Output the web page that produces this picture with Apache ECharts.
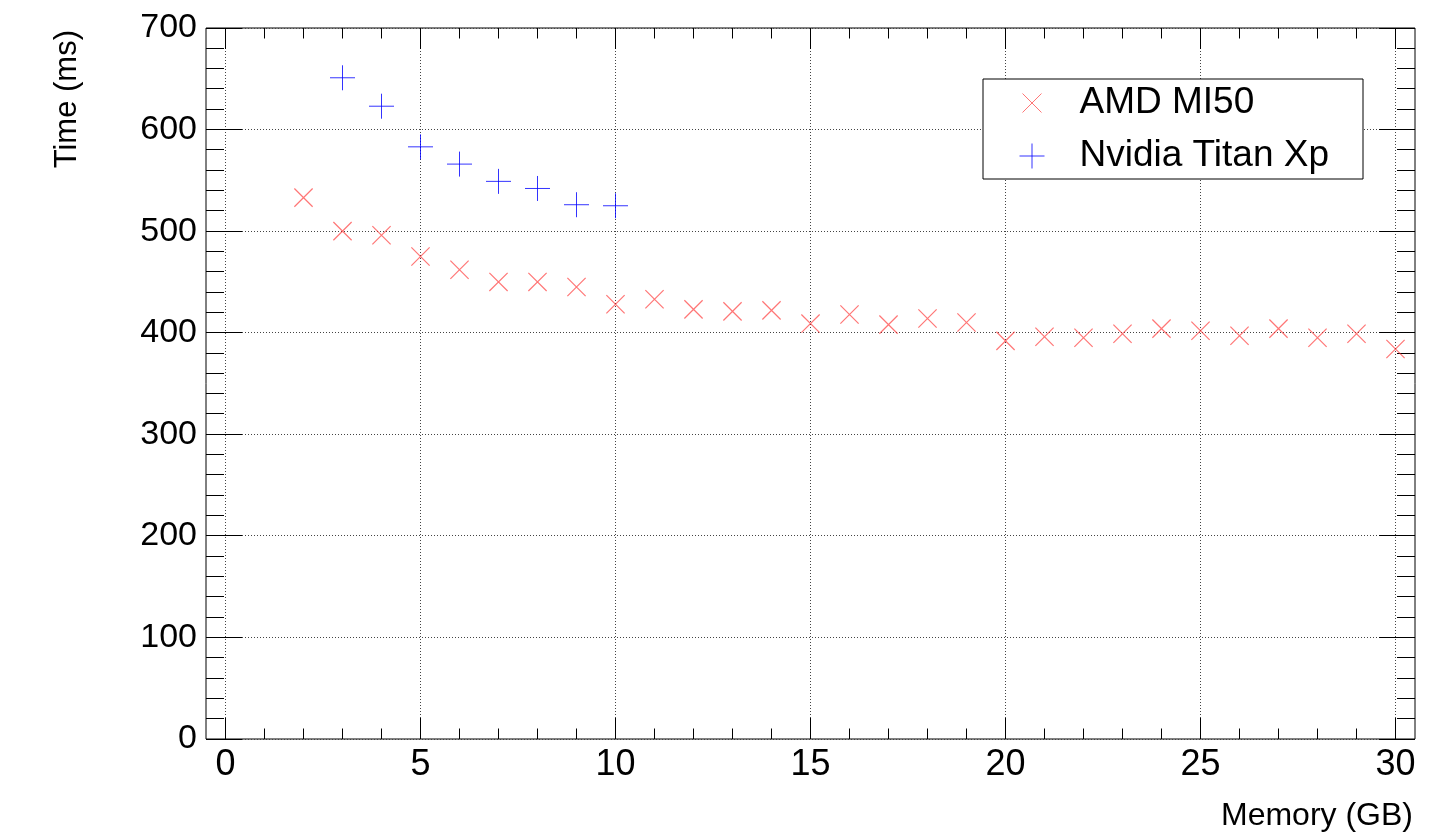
<!DOCTYPE html>
<html>
<head>
<meta charset="utf-8">
<script src="https://cdn.jsdelivr.net/npm/echarts@6/dist/echarts.min.js"></script>
<style>
html,body{margin:0;padding:0;background:#fff;}
#chart{width:1450px;height:836px;}
</style>
</head>
<body>
<div id="chart"></div>
<script>
// ---- data ----
const amdMemory = [2,3,4,5,6,7,8,9,10,11,12,13,14,15,16,17,18,19,20,21,22,23,24,25,26,27,28,29,30];
const amdTime   = [533,500,496,475,462,450,450,445,428,433,423,421,422,409,418,408,414,410,392,396,395,399,404,402,397,404,395,399,384];
const nvMemory  = [3,4,5,6,7,8,9,10];
const nvTime    = [651,623,583,566,549,542,526,525];
const seriesNames = ['AMD MI50', 'Nvidia Titan Xp'];

// ---- axes / ticks ----
const xRange = [-0.5, 30.5];
const yRange = [0, 700];
const xMajorTicks = [0,5,10,15,20,25,30];
const xMinorTicks = [1,2,3,4,6,7,8,9,11,12,13,14,16,17,18,19,21,22,23,24,26,27,28,29];
const yMajorTicks = [0,100,200,300,400,500,600,700];
const yMinorTicks = [20,40,60,80,120,140,160,180,220,240,260,280,320,340,360,380,420,440,460,480,520,540,560,580,620,640,660,680];
const xTitle = 'Memory (GB)';
const yTitle = 'Time (ms)';

const FONT = 'Liberation Sans, Arial, Helvetica, sans-serif';
const crisp = v => Math.round(v - 0.5) + 0.5;

function xTickRender(len, withGrid) {
  return function (params, api) {
    const v = api.value(0);
    const b = api.coord([v, yRange[0]]);
    const t = api.coord([v, yRange[1]]);
    const x = crisp(b[0]);
    const ch = [
      {type:'line', shape:{x1:x, y1:b[1], x2:x, y2:b[1]-len}, style:{stroke:'#000', lineWidth:1}},
      {type:'line', shape:{x1:x, y1:t[1], x2:x, y2:t[1]+len}, style:{stroke:'#000', lineWidth:1}}
    ];
    if (withGrid) ch.unshift({type:'line', shape:{x1:x, y1:b[1], x2:x, y2:t[1]}, style:{stroke:'#444', lineWidth:1, lineDash:[1,2]}});
    return {type:'group', children:ch};
  };
}
function yTickRender(len, withGrid) {
  return function (params, api) {
    const v = api.value(1);
    const l = api.coord([xRange[0], v]);
    const r = api.coord([xRange[1], v]);
    const y = crisp(l[1]);
    const ch = [
      {type:'line', shape:{x1:l[0], y1:y, x2:l[0]+len, y2:y}, style:{stroke:'#000', lineWidth:1}},
      {type:'line', shape:{x1:r[0], y1:y, x2:r[0]-len, y2:y}, style:{stroke:'#000', lineWidth:1}}
    ];
    if (withGrid) ch.unshift({type:'line', shape:{x1:l[0], y1:y, x2:r[0], y2:y}, style:{stroke:'#444', lineWidth:1, lineDash:[1,2]}});
    return {type:'group', children:ch};
  };
}
function tickSeries(data, render) {
  return {
    type:'custom', silent:true, clip:false, z:1,
    data:data, renderItem:render, tooltip:{show:false}
  };
}

const X_SYMBOL = 'path://M-3,-3M22,22M0,0L19,19M19,0L0,19';
const PLUS_SYMBOL = 'path://M12.5,0L12.5,25M0,12.5L25,12.5';

const chart = echarts.init(document.getElementById('chart'), null, {renderer:'canvas'});
chart.setOption({
  backgroundColor:'#fff',
  animation:false,
  textStyle:{fontFamily:FONT},
  grid:{left:206, right:35, top:28, bottom:97, show:true, borderColor:'#000', borderWidth:1,
        backgroundColor:'transparent', containLabel:false, outerBoundsMode:'none'},
  legend:{
    orient:'vertical', left:983, top:79,
    data:seriesNames,
    itemWidth:25, itemHeight:25, itemGap:13,
    padding:[4,34,3,34],
    backgroundColor:'#fff', borderColor:'#000', borderWidth:1,
    itemStyle:{borderWidth:1},
    textStyle:{fontSize:37, fontFamily:FONT, color:'#000', lineHeight:40, padding:[0,0,0,30]},
    selectedMode:false
  },
  graphic:[
    {type:'text', x:1413, y:816, silent:true,
     style:{text:xTitle, align:'right', verticalAlign:'middle', fontSize:32, fontFamily:FONT, fill:'#000'}},
    {type:'text', x:67, y:30, rotation:Math.PI/2, silent:true,
     style:{text:yTitle, align:'right', verticalAlign:'middle', fontSize:31, fontFamily:FONT, fill:'#000'}}
  ],
  xAxis:{
    type:'value', min:xRange[0], max:xRange[1],
    axisLine:{show:false}, axisTick:{show:false}, splitLine:{show:false},
    axisLabel:{
      margin:8, fontSize:36, color:'#000', fontFamily:FONT,
      showMinLabel:false, showMaxLabel:false,
      formatter: v => (xMajorTicks.indexOf(v) >= 0 ? String(v) : '')
    }
  },
  yAxis:{
    type:'value', min:yRange[0], max:yRange[1], interval:100,
    axisLine:{show:false}, axisTick:{show:false}, splitLine:{show:false},
    axisLabel:{margin:9, fontSize:34, color:'#000', fontFamily:FONT}
  },
  series:[
    tickSeries(xMajorTicks.map(v => [v, yRange[0]]), xTickRender(21, true)),
    tickSeries(xMinorTicks.map(v => [v, yRange[0]]), xTickRender(10.5, false)),
    tickSeries(yMajorTicks.map(v => [xRange[0], v]), yTickRender(36, true)),
    tickSeries(yMinorTicks.map(v => [xRange[0], v]), yTickRender(18, false)),
    {
      name:seriesNames[0], type:'scatter', z:5, silent:true,
      symbol:X_SYMBOL, symbolSize:24,
      data:amdMemory.map((m, i) => [m, amdTime[i]]),
      itemStyle:{color:'none', borderColor:'rgba(255,40,40,0.8)', borderWidth:1.2},
      emphasis:{disabled:true}
    },
    {
      name:seriesNames[1], type:'scatter', z:5, silent:true,
      symbol:PLUS_SYMBOL, symbolSize:25,
      data:nvMemory.map((m, i) => [m, nvTime[i]]),
      itemStyle:{color:'none', borderColor:'#0000ff', borderWidth:1},
      emphasis:{disabled:true}
    }
  ]
});
</script>
</body>
</html>
